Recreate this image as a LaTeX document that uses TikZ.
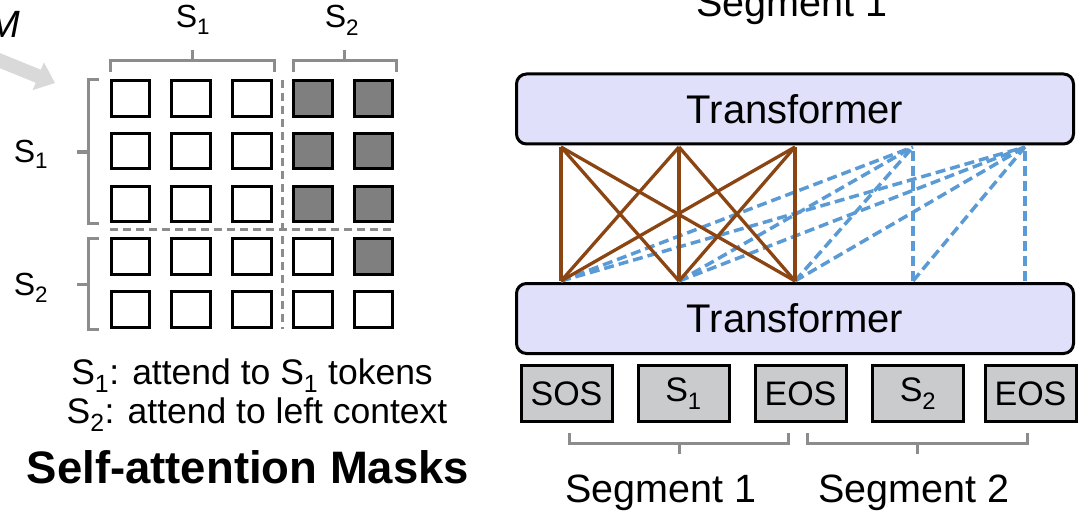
\documentclass[tikz,border=0pt]{standalone}
\usepackage{fontspec}
\setmainfont{Liberation Sans}
\definecolor{maskgray}{HTML}{7F7F7F}
\definecolor{brkgray}{HTML}{8C8C8C}
\definecolor{tfill}{HTML}{E0E0FA}
\definecolor{tokgray}{HTML}{C9CBCD}
\definecolor{attbrown}{HTML}{8B4513}
\definecolor{ctxblue}{HTML}{5B9BD5}
\definecolor{arrowgray}{HTML}{D9D9D9}
\begin{document}
\begin{tikzpicture}[x=1pt,y=-1pt,
  cell/.style={draw=black,line width=3pt,minimum width=38.5pt,minimum height=35.5pt,inner sep=0pt,fill=white},
  masked/.style={cell,fill=maskgray},
  brk/.style={draw=brkgray,line width=3pt},
  sep/.style={draw=brkgray,line width=3pt,dash pattern=on 8pt off 5pt},
  tbox/.style={draw=black,line width=3pt,rounded corners=10pt,fill=tfill,minimum width=557pt,minimum height=70pt,inner sep=0pt,font=\fontsize{40}{44}\selectfont},
  token/.style={draw=black,line width=3pt,fill=tokgray,minimum width=91pt,minimum height=56pt,inner sep=0pt,font=\fontsize{34}{38}\selectfont},
  att/.style={draw=attbrown,line width=3.3pt},
  ctx/.style={draw=ctxblue,line width=3.5pt,dash pattern=on 10pt off 5pt},
  lbl/.style={font=\fontsize{32}{36}\selectfont,inner sep=0pt,anchor=base},
  txt/.style={font=\fontsize{35.5}{40}\selectfont,inner sep=0pt,anchor=base},
  seg/.style={font=\fontsize{39.5}{44}\selectfont,inner sep=0pt,anchor=base},
]
\useasboundingbox (0,0) rectangle (1092,524);
\clip (0,0) rectangle (1092,524);

% partial glyph and gray arrow at top-left (cut by the frame)
\node[inner sep=0pt,anchor=base east,font=\fontsize{38}{40}\selectfont\itshape] (mglyph) at (20,38) {M};
\fill[arrowgray] (-14.7,47.2) -- (40.9,69.7) -- (43.9,62.3) -- (55,83) -- (32.7,90.1) -- (35.7,82.7) -- (-19.9,60.2) -- cycle;

% mask grid
\foreach \r/\y in {1/98.5,2/150.8,3/203.8,4/256.5,5/309.5}{
  \foreach \c/\x in {1/130.5,2/190.8,3/251.8,4/313.2,5/373.5}{
    \node[cell] (c\r\c) at (\x,\y) {};
  }
}
\foreach \r/\y in {1/98.5,2/150.8,3/203.8}{
  \node[masked] at (313.2,\y) {};
  \node[masked] at (373.5,\y) {};
}
\node[masked] at (373.5,256.5) {};

% separators
\draw[sep] (282,80) -- (282,329);
\draw[sep] (110,229) -- (394,229);

% top brackets
\draw[brk] (110,72) -- (110,61) -- (274,61) -- (274,72);
\draw[brk] (192,61) -- (192,50);
\draw[brk] (293,72) -- (293,61) -- (396,61) -- (396,72);
\draw[brk] (344,61) -- (344,50);
\node[lbl] (ts1) at (193,28) {S\textsubscript{1}};
\node[lbl] (ts2) at (342,28) {S\textsubscript{2}};

% left brackets
\draw[brk] (99,80) -- (88,80) -- (88,223) -- (99,223);
\draw[brk] (88,152) -- (77,152);
\draw[brk] (99,238) -- (88,238) -- (88,329) -- (99,329);
\draw[brk] (88,284) -- (77,284);
\node[lbl] (ls1) at (31,162) {S\textsubscript{1}};
\node[lbl] (ls2) at (31,295) {S\textsubscript{2}};

% captions
\node[txt] (cap1) at (252,384) {S\textsubscript{1}: attend to S\textsubscript{1} tokens};
\node[txt] (cap2) at (257,423) {S\textsubscript{2}: attend to left context};
\node[font=\fontsize{45.5}{50}\selectfont\bfseries,inner sep=0pt,anchor=base] (title) at (248,483) {Self-attention Masks};

% transformers
\node[seg] (segtop) at (792,17) {Segment 1};
\node[tbox] (ttop) at (795,109) {Transformer};
\node[tbox] (tbot) at (795,318.5) {Transformer};

% tokens
\node[token] (k1) at (566.5,393.5) {SOS};
\node[token] (k2) at (683.5,393.5) {S\textsubscript{1}};
\node[token] (k3) at (800.5,393.5) {EOS};
\node[token] (k4) at (918,393.5) {S\textsubscript{2}};
\node[token] (k5) at (1030.5,393.5) {EOS};

% segment brackets
\draw[brk] (569,433) -- (569,443) -- (788,443) -- (788,433);
\draw[brk] (679,443) -- (679,454);
\draw[brk] (807,433) -- (807,443) -- (1027,443) -- (1027,433);
\draw[brk] (917,443) -- (917,454);
\node[seg] (seg1) at (661,502) {Segment 1};
\node[seg] (seg2) at (914,502) {Segment 2};

% attention connections
\foreach \i/\x in {1/561,2/679,3/795,4/913,5/1025}{
  \coordinate (b\i) at (\x,281);
  \coordinate (t\i) at (\x,147);
}
\foreach \i in {1,2,3,4}{ \draw[ctx] (b\i) -- (t4); }
\foreach \i in {1,2,3,4,5}{ \draw[ctx] (b\i) -- (t5); }
\foreach \i in {1,2,3}{
  \foreach \j in {1,2,3}{ \draw[att] (b\i) -- (t\j); }
}
\end{tikzpicture}
\end{document}
